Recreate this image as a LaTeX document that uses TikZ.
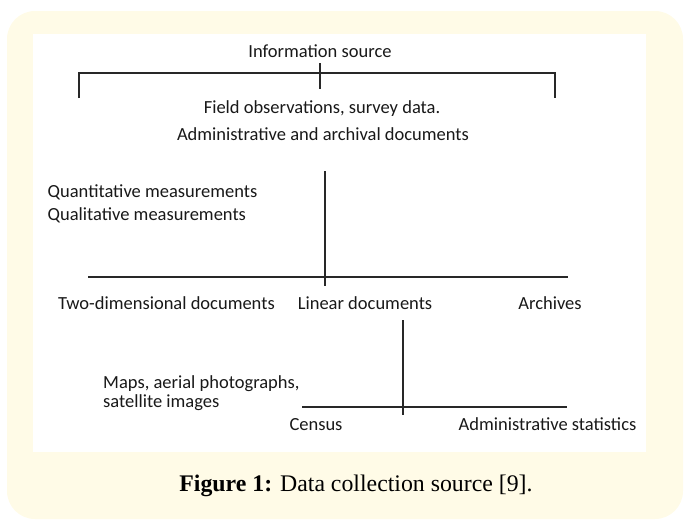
\documentclass[tikz,border=0pt]{standalone}
\usepackage{fontspec}
\setmainfont{Carlito}
\newfontfamily\capfont{Liberation Serif}
\definecolor{bgyellow}{RGB}{255,251,231}
\definecolor{linegray}{RGB}{40,40,40}
\definecolor{txtgray}{RGB}{25,25,25}
\begin{document}
\begin{tikzpicture}[x=1pt,y=-1pt,
  lbl/.style={inner sep=0pt, anchor=base, font=\fontsize{18.5}{20}\selectfont, text=txtgray},
  lblw/.style={lbl, anchor=base west},
  conn/.style={draw=linegray, line width=1.5pt},
  capt/.style={inner sep=0pt, anchor=base, font=\capfont\fontsize{23.8}{26}\selectfont, text=black}]
\useasboundingbox (0,0) rectangle (687,522);
\fill[bgyellow, rounded corners=28pt] (7,11) rectangle (683,519);
\fill[white] (33,34) rectangle (646,452);

% texts
\node[lbl] (info) at (320,57) {Information source};
\node[lbl] (field) at (322,113) {Field observations, survey data.};
\node[lbl] (admarch) at (323,140) {Administrative and archival documents};
\node[lblw] (quant) at (47.5,197) {Quantitative measurements};
\node[lblw] (qual) at (47.5,220) {Qualitative measurements};
\node[lbl] (twod) at (166.5,309) {Two-dimensional documents};
\node[lbl] (linear) at (365,309) {Linear documents};
\node[lbl] (arch) at (550,309) {Archives};
\node[lblw] (maps) at (103,388) {Maps, aerial photographs,};
\node[lblw] (sat) at (103,407) {satellite images};
\node[lbl] (census) at (316,430) {Census};
\node[lbl] (admstat) at (547.5,430) {Administrative statistics};
\node[capt] (caption) at (356,491) {\textbf{Figure 1:} Data collection source [9].};

% connector coordinates
\coordinate (bl) at (79,98);
\coordinate (blt) at (79,73);
\coordinate (brt) at (555,73);
\coordinate (br) at (555,98);
\coordinate (tt) at (320,63);
\coordinate (tb) at (320,89);
\coordinate (v1t) at (325,171);
\coordinate (v1b) at (325,286);
\coordinate (h1l) at (88,277);
\coordinate (h1r) at (568,277);
\coordinate (v2t) at (403,320);
\coordinate (v2b) at (403,415);
\coordinate (h2l) at (302,407);
\coordinate (h2r) at (567,407);

\draw[conn] (bl) -- (blt) -- (brt) -- (br);
\draw[conn] (tt) -- (tb);
\draw[conn] (v1t) -- (v1b);
\draw[conn] (h1l) -- (h1r);
\draw[conn] (v2t) -- (v2b);
\draw[conn] (h2l) -- (h2r);
\end{tikzpicture}
\end{document}
